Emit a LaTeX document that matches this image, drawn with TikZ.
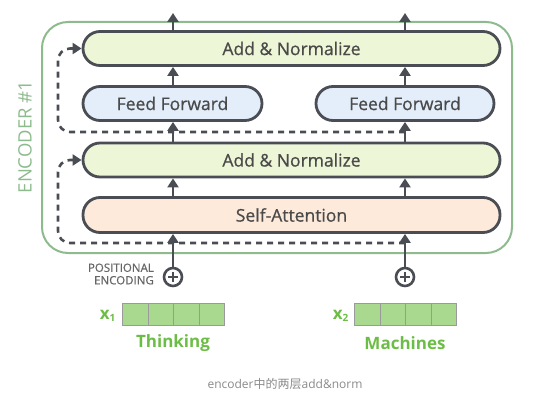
\documentclass[tikz,border=0pt]{standalone}
\usepackage{fontspec}
\setmainfont{Open Sans}
\newfontfamily\semib[FakeBold=0.7]{Open Sans}
\newfontfamily\cjkfont{Noto Sans CJK SC}
\usetikzlibrary{arrows.meta}
\definecolor{dk}{HTML}{4A4E54}
\definecolor{anfill}{HTML}{EEF6D8}
\definecolor{fffill}{HTML}{E3EEFA}
\definecolor{safill}{HTML}{FDEADB}
\definecolor{encgreen}{HTML}{8DBB8D}
\definecolor{vecfill}{HTML}{A9D98F}
\definecolor{vecline}{HTML}{9A9A9A}
\definecolor{wordgreen}{HTML}{6CBD45}
\definecolor{txt}{HTML}{4A4A4A}
\definecolor{pegray}{HTML}{666666}
\definecolor{capgray}{HTML}{8A8A8A}
\tikzset{
  blk/.style={draw=dk,line width=2.8pt,rounded corners=17pt,inner sep=0pt,
    minimum height=34pt,text=txt,font=\semib\fontsize{17.5}{19}\selectfont},
  flowarrow/.style={draw=dk,line width=2.6pt,-{Triangle[width=11pt,length=9pt]}},
  dashline/.style={draw=dk,line width=2.6pt,dash pattern=on 6pt off 5pt,rounded corners=12pt,
    -{Triangle[width=11pt,length=9pt]}},
  cell/.style={draw=vecline,line width=1pt,fill=vecfill,minimum width=25.5pt,minimum height=22pt,inner sep=0pt},
  word/.style={text=wordgreen,font=\fontsize{17}{19}\selectfont\bfseries},
}
\begin{document}
\begin{tikzpicture}[x=1pt,y=-1pt]
\useasboundingbox (0,0) rectangle (546,401);
% encoder frame
\draw[encgreen,line width=2pt,rounded corners=26pt] (42,22) rectangle (512,253);
\node[rotate=90,text=encgreen,font=\fontsize{18.5}{20}\selectfont] (enc) at (25,137) {ENCODER \#1};
% blocks
\node[blk,fill=anfill,minimum width=417pt] (an1) at (291.5,48.5) {Add \& Normalize};
\node[blk,fill=fffill,minimum width=179pt] (ffL) at (172.5,103.5) {Feed Forward};
\node[blk,fill=fffill,minimum width=178pt] (ffR) at (405,103.5) {Feed Forward};
\node[blk,fill=anfill,minimum width=417pt] (an2) at (291.5,160) {Add \& Normalize};
\node[blk,fill=safill,minimum width=417pt,minimum height=35pt] (sa) at (291.5,215) {Self-Attention};
% columns
\coordinate (cL) at (173,0);
\coordinate (cR) at (405,0);
\coordinate (outL) at (173,13);
\coordinate (outR) at (405,13);
% plus circles
\foreach \n/\x in {pL/173,pR/405}{
  \node[circle,draw=dk,line width=2.6pt,minimum size=18pt,inner sep=0pt] (\n) at (\x,277) {};
  \draw[dk,line width=2.6pt] ([xshift=-5pt]\n.center) -- ([xshift=5pt]\n.center)
    ([yshift=-5pt]\n.center) -- ([yshift=5pt]\n.center);
}
% dashed residuals
\coordinate (jR1) at (405,243);
\coordinate (jR2) at (405,132);
\draw[dashline] (jR1) -- (58,243) -- (58,160) -- (an2.west);
\draw[dashline] (jR2) -- (58,132) -- (58,48.5) -- (an1.west);
% flow arrows
\foreach \c in {cL,cR}{
  \draw[flowarrow] (pL.north -| \c) -- (sa.south -| \c);
  \draw[flowarrow] (sa.north -| \c) -- (an2.south -| \c);
  \draw[flowarrow] (an2.north -| \c) -- (ffL.south -| \c);
  \draw[flowarrow] (ffL.north -| \c) -- (an1.south -| \c);
}
\draw[flowarrow] (an1.north -| cL) -- (outL);
\draw[flowarrow] (an1.north -| cR) -- (outR);
% positional encoding label
\node[anchor=east,align=right,text=pegray,font=\semib\fontsize{11.5}{12.5}\selectfont,inner sep=0pt] (pe) at (154,274) {POSITIONAL\\ENCODING};
% vectors
\foreach \i in {0,1,2,3}{
  \node[cell] (a\i) at (135.25+25.5*\i,314) {};
  \node[cell] (b\i) at (367.25+25.5*\i,314) {};
}
\node[word,anchor=east,inner sep=0pt] (x1) at (116,316) {x\textsubscript{\fontsize{10}{12}\selectfont 1}};
\node[word,anchor=east,inner sep=0pt] (x2) at (349,316) {x\textsubscript{\fontsize{10}{12}\selectfont 2}};
\node[word] (w1) at (173,343) {Thinking};
\node[word] (w2) at (405,343) {Machines};
% caption
\node[text=capgray,font=\fontsize{12}{14}\selectfont] (cap) at (285,384) {encoder{\cjkfont 中的两层}add\&norm};
\end{tikzpicture}
\end{document}
